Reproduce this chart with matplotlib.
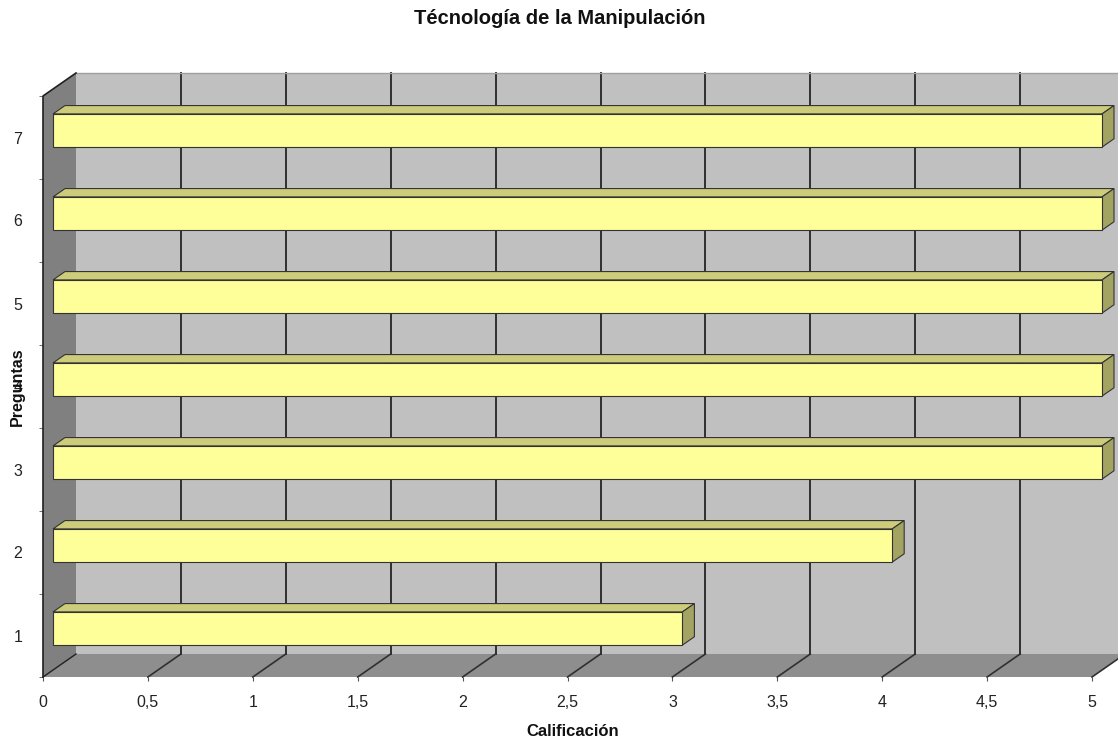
import numpy as np
import matplotlib
matplotlib.use("Agg")
import matplotlib.pyplot as plt
from matplotlib.patches import Polygon

plt.rcParams["font.family"] = ["Liberation Sans", "DejaVu Sans"]

# data
categories = ["1", "2", "3", "4", "5", "6", "7"]
values = [3, 4, 5, 5, 5, 5, 5]
xticks = [0, 0.5, 1, 1.5, 2, 2.5, 3, 3.5, 4, 4.5, 5]
xticklabels = ["0", "0,5", "1", "1,5", "2", "2,5", "3", "3,5", "4", "4,5", "5"]
title = "Técnología de la Manipulación"
xlabel = "Calificación"
ylabel = "Preguntas"

W, H = 1118, 738
fig = plt.figure(figsize=(W / 100, H / 100), dpi=100)

# front plane in pixels
left, right, top, bottom = 43, 1118, 73, 677
px_per_x = 1049 / 5
px_per_cat = 581 / 7
ax = fig.add_axes([left / W, (H - bottom) / H, (right - left) / W, (bottom - top) / H])
ax.set_xlim(0, (right - left) / px_per_x)
ax.set_ylim(0.5, 0.5 + (bottom - top) / px_per_cat)

# depth offsets (data units)
DX = 33 / px_per_x
DY = 23 / px_per_cat
xmax = max(xticks)
nc = len(categories)
ylo, yhi = 0.5, nc + 0.5


def P(v, c, d):
    return (v + d * DX, c + d * DY)


def poly(pts, fc, ec="none", lw=0, z=1):
    ax.add_patch(Polygon(pts, closed=True, facecolor=fc, edgecolor=ec,
                         linewidth=lw, zorder=z, clip_on=False))


# back wall
poly([P(0, ylo, 1), P(xmax, ylo, 1), P(xmax, yhi, 1), P(0, yhi, 1)], "#c0c0c0", z=1)
# floor
poly([P(0, ylo, 0), P(xmax, ylo, 0), P(xmax, ylo, 1), P(0, ylo, 1)], "#8e8e8e", z=1)
# left wall
poly([P(0, ylo, 0), P(0, ylo, 1), P(0, yhi, 1), P(0, yhi, 0)], "#808080", z=1)

# gridlines on back wall + floor
for v in xticks[1:]:
    x0, y0 = P(v, ylo, 1)
    x1, y1 = P(v, yhi, 1)
    ax.plot([x0, x1], [y0, y1], color="#303030", lw=1.4, zorder=2, clip_on=False)
    xa, ya = P(v, ylo, 0)
    ax.plot([xa, x0], [ya, y0], color="#303030", lw=1.2, zorder=2, clip_on=False)
# top edge of back wall
xa, ya = P(0, yhi, 1)
xb, yb = P(xmax, yhi, 1)
ax.plot([xa, xb], [ya, yb], color="#a0a0a0", lw=1, zorder=2, clip_on=False)

# left wall edges
xa, ya = P(0, ylo, 0)
xb, yb = P(0, yhi, 0)
xc, yc = P(0, yhi, 1)
ax.plot([xa, xb, xc], [ya, yb, yc], color="#202020", lw=1.2, zorder=3, clip_on=False)
xd, yd = P(0, ylo, 1)
ax.plot([xa, xd], [ya, yd], color="#202020", lw=1.0, zorder=3, clip_on=False)

# bars
d0, d1 = 10 / 33, 22 / 33
bh = 0.2
for i, v in enumerate(values):
    c = i + 1
    front = [P(0, c - bh, d0), P(v, c - bh, d0), P(v, c + bh, d0), P(0, c + bh, d0)]
    topf = [P(0, c + bh, d0), P(v, c + bh, d0), P(v, c + bh, d1), P(0, c + bh, d1)]
    side = [P(v, c - bh, d0), P(v, c - bh, d1), P(v, c + bh, d1), P(v, c + bh, d0)]
    poly(topf, "#cccc7a", "#333333", 0.8, z=4)
    poly(side, "#a3a362", "#333333", 0.8, z=4)
    poly(front, "#ffff99", "#333333", 0.8, z=5)

for s in ax.spines.values():
    s.set_visible(False)
ax.set_xticks(xticks)
ax.set_xticklabels(xticklabels, fontsize=11.5, color="#222222")
ax.tick_params(axis="x", length=3, color="#555555", pad=10)
ax.set_yticks(range(1, nc + 1))
ax.set_yticklabels(categories, fontsize=11.5, color="#222222")
ax.set_yticks(np.arange(ylo, yhi + 0.01, 1), minor=True)
ax.tick_params(axis="y", which="major", length=0, pad=15)
ax.tick_params(axis="y", which="minor", length=3, color="#555555")
ax.set_facecolor("none")

fig.text(560 / W, 1 - 19 / H, title, ha="center", va="center",
         fontsize=14.5, fontweight="bold", color="#111111")
fig.text(573 / W, 1 - 731 / H, xlabel, ha="center", va="center",
         fontsize=12, fontweight="bold", color="#111111")
fig.text(17 / W, 1 - 387 / H, ylabel, ha="center", va="center", rotation=90,
         fontsize=11.5, fontweight="bold", color="#111111")

fig.savefig("out.png", dpi=100)
